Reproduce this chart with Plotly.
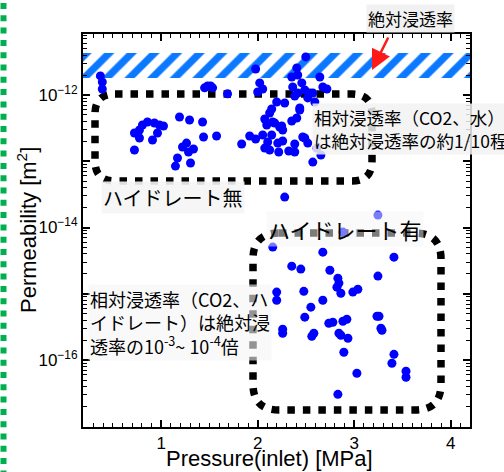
import plotly.graph_objects as go

# ---------------- data ----------------
pressure_mpa = [
    0.370, 0.390, 0.390, 1.450, 1.481, 1.512, 1.533, 1.688,
    0.723, 0.775, 0.806, 0.858, 0.930, 0.982, 1.024, 0.962, 0.775, 0.910, 0.723,
    1.190, 1.294, 1.429, 1.439, 1.574, 1.263, 1.221, 1.335, 1.283, 1.169, 1.304, 1.148,
    1.834, 1.917, 1.979,
    1.979, 2.021, 2.052, 2.000, 2.498, 2.405, 2.415, 2.353, 2.644, 2.363, 2.457, 2.675,
    2.717, 2.488, 2.540, 2.415, 2.384, 2.519, 2.592, 2.571, 2.197, 2.280, 2.436, 2.145,
    2.124, 2.405, 2.353, 2.073, 2.156, 2.249, 2.094, 2.176, 2.228, 2.259, 2.436, 2.052,
    2.145, 2.104, 2.208, 2.259, 2.384, 2.488, 2.519, 2.073, 2.124, 2.218, 2.322, 2.384,
    2.467, 2.613, 2.655, 2.571, 2.280,
    3.246, 2.883, 2.156, 2.675, 3.412, 2.353, 2.447, 2.748, 3.246, 2.831, 2.842, 2.821,
    2.862, 2.986, 3.038, 2.478, 2.197, 2.197, 2.675, 2.551, 2.488, 2.259, 2.259, 2.561,
    2.582, 2.737, 2.779, 2.883, 2.924, 2.842, 2.862, 2.935, 2.893, 3.028, 2.831, 3.236,
    3.257, 3.277, 3.288, 3.412, 3.391, 3.537, 3.537,
]
permeability_m2 = [
    1.94e-12, 1.57e-12, 1.23e-12, 1.28e-12, 1.37e-12, 1.37e-12, 1.28e-12, 1.04e-12,
    2.67e-13, 2.96e-13, 3.52e-13, 3.91e-13, 3.78e-13, 3.52e-13, 3.40e-13, 2.67e-13, 2.24e-13, 2.09e-13, 1.48e-13,
    4.66e-13, 4.19e-13, 3.91e-13, 2.32e-13, 2.40e-13, 1.88e-13, 1.64e-13, 1.53e-13, 1.38e-13, 1.12e-13, 9.40e-14, 8.45e-14,
    1.82e-13, 2.40e-13, 2.16e-13,
    2.47e-12, 1.52e-12, 1.23e-12, 1.11e-12, 3.75e-12, 2.56e-12, 2.00e-12, 1.87e-12, 1.87e-12, 1.32e-12, 1.52e-12, 1.32e-12,
    1.23e-12, 1.19e-12, 1.07e-12, 1.07e-12, 9.66e-13, 9.02e-13, 7.83e-13, 1.07e-12, 7.83e-13, 7.57e-13, 6.37e-13, 6.15e-13,
    5.35e-13, 4.50e-13, 4.05e-13, 4.34e-13, 3.91e-13, 3.40e-13, 3.52e-13, 3.78e-13, 3.29e-13, 2.96e-13, 5.93e-13, 2.49e-13,
    2.49e-13, 1.95e-13, 1.88e-13, 2.02e-13, 1.82e-13, 2.24e-13, 1.88e-13, 1.58e-13, 1.48e-13, 1.38e-13, 1.43e-13, 1.38e-13,
    2.32e-13, 1.58e-13, 1.24e-13, 9.72e-14, 2.88e-14,
    1.54e-14, 8.53e-15, 5.06e-15, 4.25e-15, 3.57e-15, 2.61e-15, 2.36e-15, 2.27e-15, 1.85e-15, 1.72e-15, 1.45e-15, 1.26e-15,
    1.02e-15, 1.06e-15, 1.17e-15, 1.09e-15, 1.06e-15, 8.00e-16, 8.00e-16, 6.28e-16, 4.44e-16, 2.92e-16, 2.54e-16, 2.29e-16,
    2.54e-16, 3.60e-16, 3.72e-16, 3.85e-16, 4.13e-16, 2.54e-16, 2.37e-16, 2.13e-16, 1.31e-16, 6.32e-17, 3.04e-17, 4.59e-16,
    4.59e-16, 3.02e-16, 2.82e-16, 1.22e-16, 8.95e-17, 6.78e-17, 5.50e-17,
]

# absolute permeability band (hatched)
band_pressure = [0.19, 4.2]
band_permeability = [1.81e-12, 4.31e-12]

x_ticks = [1, 2, 3, 4]
y_decades = [-17, -16, -15, -14, -13, -12, -11]
y_labelled = [-16, -14, -12]

X_RANGE = [0.19, 4.2]
Y_RANGE = [-17.01, -11.08]

# ---------------- layout helpers (pixel -> paper) ----------------
L, T, R, B = 83.0, 34.0, 470.0, 427.0


def pxx(x):
    return (x - L) / (R - L)


def pxy(y):
    return (B - y) / (B - T)


def rounded_box(l, t, r, b, rad):
    pts = [
        ("M", [(l + rad, t)]),
        ("L", [(r - rad, t)]),
        ("Q", [(r, t), (r, t + rad)]),
        ("L", [(r, b - rad)]),
        ("Q", [(r, b), (r - rad, b)]),
        ("L", [(l + rad, b)]),
        ("Q", [(l, b), (l, b - rad)]),
        ("L", [(l, t + rad)]),
        ("Q", [(l, t), (l + rad, t)]),
    ]
    s = ""
    for cmd, coords in pts:
        s += cmd + " " + " ".join(f"{pxx(x):.5f},{pxy(y):.5f}" for x, y in coords) + " "
    return s + "Z"


fig = go.Figure()

fig.add_trace(go.Scatter(
    x=[band_pressure[0], band_pressure[1], band_pressure[1], band_pressure[0], band_pressure[0]],
    y=[band_permeability[0], band_permeability[0], band_permeability[1], band_permeability[1], band_permeability[0]],
    mode="lines", fill="toself", line=dict(width=0),
    fillcolor="white",
    fillpattern=dict(shape="/", fgcolor="#0a78ff", bgcolor="white", fgopacity=1,
                     size=16, solidity=0.45),
    hoverinfo="skip", showlegend=False,
))

fig.add_trace(go.Scatter(
    x=pressure_mpa, y=permeability_m2, mode="markers",
    marker=dict(color="#0000ff", size=9, line=dict(width=0)),
    showlegend=False,
))

dot_line = dict(color="black", width=7.5, dash="7.5px,8px")
shapes = [
    dict(type="path", xref="paper", yref="paper", layer="below",
         path=rounded_box(95, 94, 372, 181, 20), line=dot_line),
    dict(type="path", xref="paper", yref="paper", layer="below",
         path=rounded_box(253, 233, 441, 410, 26), line=dot_line),
    dict(type="line", xref="paper", yref="paper", layer="above",
         x0=pxx(3.5), x1=pxx(3.5), y0=pxy(3), y1=pxy(472),
         line=dict(color="#00b050", width=6, dash="6px,6.3px")),
]

jp = "Noto Sans CJK JP"
annotations = [
    dict(text="絶対浸透率", xref="paper", yref="paper", x=pxx(410), y=pxy(18),
         xanchor="center", yanchor="middle", showarrow=False,
         font=dict(family=jp, size=17, color="black"), bgcolor="rgba(240,240,240,0.9)"),
    dict(text="", xref="paper", yref="paper", x=pxx(372), y=pxy(70),
         ax=17, ay=-34, showarrow=True, arrowhead=2, arrowsize=1.6,
         arrowwidth=2.5, arrowcolor="#ff1a1a"),
    dict(text="相対浸透率（CO2、水）<br>は絶対浸透率の約1/10程度", xref="paper", yref="paper",
         x=pxx(312), y=pxy(129), xanchor="left", yanchor="middle", align="left",
         showarrow=False, font=dict(family=jp, size=17.5, color="black"),
         bgcolor="rgba(242,242,242,0.85)"),
    dict(text="ハイドレート無", xref="paper", yref="paper", x=pxx(101), y=pxy(197),
         xanchor="left", yanchor="middle", showarrow=False,
         font=dict(family=jp, size=20, color="black"), bgcolor="rgba(245,245,245,0.9)"),
    dict(text="ハイドレート有", xref="paper", yref="paper", x=pxx(266), y=pxy(229),
         xanchor="left", yanchor="middle", showarrow=False,
         font=dict(family=jp, size=22, color="black"), bgcolor="rgba(245,245,245,0.5)"),
    dict(text="相対浸透率（CO2、ハ<br>イドレート）は絶対浸<br>透率の10<sup>-3</sup>~ 10<sup>-4</sup>倍",
         xref="paper", yref="paper", x=pxx(88), y=pxy(322), xanchor="left", yanchor="middle",
         align="left", showarrow=False, font=dict(family=jp, size=18, color="black"),
         bgcolor="rgba(245,245,245,0.6)"),
    # axis titles
    dict(text="Pressure(inlet) [MPa]", xref="paper", yref="paper", x=pxx(269), y=pxy(458),
         xanchor="center", yanchor="middle", showarrow=False,
         font=dict(family="Liberation Sans", size=22, color="black")),
    dict(text="Permeability [m<sup>2</sup>]", xref="paper", yref="paper", x=pxx(27), y=pxy(230),
         xanchor="center", yanchor="middle", showarrow=False, textangle=-90,
         font=dict(family="Liberation Sans", size=22, color="black")),
]

y_tickvals = [10.0 ** d for d in y_decades]
y_ticktext = [f"10<sup>\u2212{-d}</sup>" if d in y_labelled else "" for d in y_decades]
y_minor = [k * 10.0 ** d for d in y_decades[:-1] for k in range(2, 10)]

fig.update_layout(
    width=504, height=472,
    margin=dict(l=int(L), r=int(504 - R), t=int(T), b=int(472 - B), autoexpand=False),
    paper_bgcolor="white", plot_bgcolor="white",
    font=dict(family="Liberation Sans", color="black"),
    shapes=shapes, annotations=annotations,
    xaxis=dict(
        range=X_RANGE, tickvals=x_ticks, ticks="inside", ticklen=7, tickwidth=1.5,
        tickcolor="black", showline=True, linecolor="black", linewidth=2, mirror="ticks",
        showgrid=False, zeroline=False, tickfont=dict(size=17), automargin=False,
        minor=dict(dtick=0.1, ticks="inside", ticklen=4, tickwidth=1, tickcolor="black", showgrid=False),
    ),
    yaxis=dict(
        type="log", range=Y_RANGE, tickmode="array", tickvals=y_tickvals, ticktext=y_ticktext,
        ticks="inside", ticklen=7, tickwidth=1.5, tickcolor="black",
        showline=True, linecolor="black", linewidth=2, mirror="ticks",
        showgrid=False, zeroline=False, tickfont=dict(size=17), automargin=False,
        minor=dict(tickmode="array", tickvals=y_minor, ticks="inside", ticklen=4,
                   tickwidth=1, tickcolor="black", showgrid=False),
    ),
)

fig.write_html("out.html", config={"displayModeBar": False},
               post_script="document.body.style.margin='0px';")
